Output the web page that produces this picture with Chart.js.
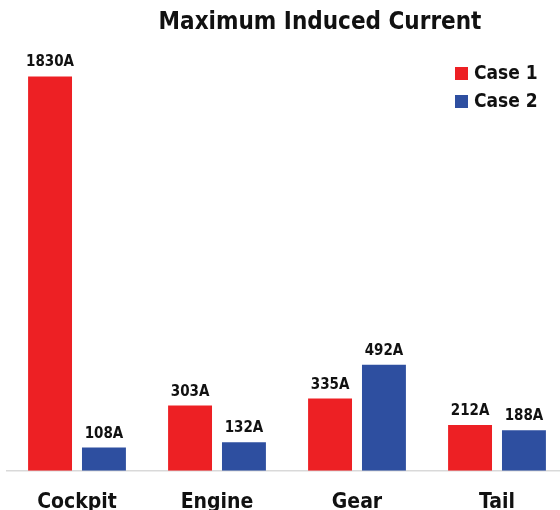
<!DOCTYPE html>
<html>
<head>
<meta charset="utf-8">
<script src="https://cdn.jsdelivr.net/npm/chart.js@4/dist/chart.umd.min.js"></script>
<style>
  html, body { margin: 0; padding: 0; background: #fff; overflow: hidden; }
  #wrap { position: absolute; left: 0; top: 0; width: 640px; height: 526px; }
</style>
</head>
<body>
<div id="wrap"><canvas id="currentChart" width="640" height="526"></canvas></div>
<script>
const locations = ['Cockpit', 'Engine', 'Gear', 'Tail']
const case1 = [1830, 303, 335, 212]
const case2 = [108, 132, 492, 188]
const seriesNames = ['Case 1', 'Case 2']

const RED = '#ED2024'
const BLUE = '#2E4FA0'
const FONT = "'DejaVu Sans Condensed', 'DejaVu Sans', sans-serif"

// value labels above every bar
const barLabels = {
    id: 'barLabels',
    afterDatasetsDraw(chart) {
        const ctx = chart.ctx
        ctx.save()
        ctx.font = `bold 15px ${FONT}`
        ctx.fillStyle = '#111'
        ctx.textAlign = 'center'
        ctx.textBaseline = 'alphabetic'
        chart.data.datasets.forEach((ds, i) => {
            chart.getDatasetMeta(i).data.forEach((bar, j) => {
                ctx.fillText(ds.data[j] + 'A', bar.x, bar.y - 10)
            })
        })
        ctx.restore()
    }
}

// stacked legend sitting inside the plot, top right
const cornerLegend = {
    id: 'cornerLegend',
    afterDraw(chart) {
        const ctx = chart.ctx
        ctx.save()
        ctx.font = `bold 19px ${FONT}`
        ctx.textBaseline = 'middle'
        ctx.textAlign = 'left'
        chart.data.datasets.forEach((ds, i) => {
            const y = 67 + i * 28
            ctx.fillStyle = ds.backgroundColor
            ctx.fillRect(455, y, 13, 13)
            ctx.fillStyle = '#111'
            ctx.fillText(ds.label, 474, y + 7)
        })
        ctx.restore()
    }
}

const ctx = document.getElementById('currentChart').getContext('2d')
new Chart(ctx, {
    type: 'bar',
    data: {
        labels: locations,
        datasets: [
            {
                label: seriesNames[0],
                data: case1,
                backgroundColor: RED,
                categoryPercentage: 0.77,
                barPercentage: 0.815
            },
            {
                label: seriesNames[1],
                data: case2,
                backgroundColor: BLUE,
                categoryPercentage: 0.77,
                barPercentage: 0.815
            }
        ]
    },
    options: {
        responsive: false,
        animation: false,
        layout: { padding: { left: 7, right: 7, top: 0, bottom: 0 } },
        plugins: {
            legend: { display: false },
            tooltip: { enabled: false },
            title: {
                display: true,
                text: 'Maximum Induced Current',
                color: '#111',
                font: { family: FONT, size: 24, weight: 'bold' },
                padding: { top: 8, bottom: 3 }
            }
        },
        scales: {
            x: {
                grid: { display: false },
                border: { display: true, color: '#d9d9d9', width: 1.5 },
                ticks: {
                    color: '#111',
                    padding: 11,
                    font: { family: FONT, size: 21, weight: 'bold' }
                }
            },
            y: {
                position: 'right',
                min: 0,
                max: 2000,
                grid: { display: false },
                border: { display: false },
                ticks: { display: false },
                // empty strip on the right keeps the plot narrower than the title
                afterFit(scale) { scale.width = 66 }
            }
        }
    },
    plugins: [barLabels, cornerLegend]
})
</script>
</body>
</html>
